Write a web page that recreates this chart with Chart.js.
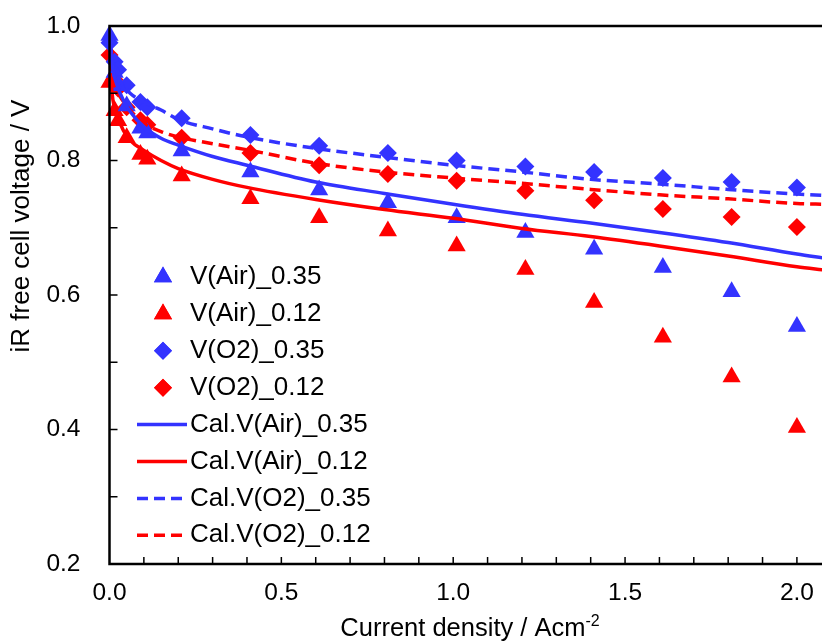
<!DOCTYPE html>
<html>
<head>
<meta charset="utf-8">
<script src="https://cdn.jsdelivr.net/npm/chart.js@4.4.1/dist/chart.umd.min.js"></script>
<style>
  html, body { margin: 0; padding: 0; background: #fff; }
  #wrap { width: 822px; height: 643px; }
</style>
</head>
<body>
<div id="wrap"><canvas id="myChart" width="822" height="643"></canvas></div>
<script>
// measured points (current density in A/cm2, iR free voltage in V)
const currentDensity = [0, 0.015, 0.025, 0.05, 0.09, 0.11, 0.21, 0.41, 0.61, 0.81, 1.01, 1.21, 1.41, 1.61, 1.81, 2.0];
const vAir035 = [0.986, 0.931, 0.911, 0.881, 0.848, 0.841, 0.814, 0.783, 0.756, 0.737, 0.715, 0.693, 0.668, 0.641, 0.605, 0.553];
const vAir012 = [0.916, 0.874, 0.859, 0.834, 0.809, 0.802, 0.777, 0.743, 0.715, 0.695, 0.673, 0.638, 0.589, 0.537, 0.478, 0.403];
const vO2035 = [0.975, 0.947, 0.935, 0.912, 0.887, 0.879, 0.863, 0.838, 0.822, 0.811, 0.800, 0.791, 0.783, 0.774, 0.768, 0.760];
const vO2012 = [0.957, 0.920, 0.907, 0.879, 0.860, 0.853, 0.834, 0.811, 0.793, 0.780, 0.770, 0.755, 0.741, 0.728, 0.716, 0.701];

// calculated curves
const calDensity = [0.002, 0.01, 0.02, 0.04, 0.06, 0.1, 0.15, 0.2, 0.3, 0.4, 0.6, 0.8, 1.0, 1.2, 1.4, 1.6, 1.8, 2.0, 2.08];
const calAir035 = [0.970, 0.935, 0.915, 0.890, 0.873, 0.850, 0.833, 0.823, 0.806, 0.793, 0.768, 0.751, 0.735, 0.720, 0.707, 0.693, 0.678, 0.661, 0.655];
const calAir012 = [0.930, 0.890, 0.870, 0.845, 0.830, 0.815, 0.800, 0.788, 0.772, 0.760, 0.742, 0.727, 0.714, 0.699, 0.687, 0.673, 0.658, 0.642, 0.637];
const calO2035 = [0.975, 0.945, 0.930, 0.912, 0.900, 0.887, 0.875, 0.861, 0.847, 0.835, 0.818, 0.805, 0.793, 0.783, 0.772, 0.765, 0.757, 0.750, 0.748];
const calO2012 = [0.950, 0.920, 0.905, 0.888, 0.875, 0.855, 0.843, 0.835, 0.825, 0.816, 0.796, 0.783, 0.774, 0.766, 0.757, 0.749, 0.743, 0.736, 0.735];

const xTickLabels = [0, 0.5, 1.0, 1.5, 2.0];
const yTickLabels = [0.2, 0.4, 0.6, 0.8, 1.0];

const blue = 'rgb(51,51,255)';
const red = 'rgb(255,0,0)';
const FONT = "'Liberation Sans', Arial, sans-serif";

function pts(xs, ys) {
    return xs.map((x, i) => ({ x: x, y: ys[i] }));
}

function markerSet(label, ys, color, style, r) {
    return {
        label: label, type: 'scatter', data: pts(currentDensity, ys),
        pointStyle: style, pointRadius: r, backgroundColor: color, borderColor: color,
        borderWidth: 0, showLine: false, clip: false, order: 1
    };
}
function calSet(label, ys, color, dashed) {
    return {
        label: label, type: 'line', data: pts(calDensity, ys),
        borderColor: color, backgroundColor: color, borderWidth: 3.5,
        borderDash: dashed ? [11, 6] : [], pointRadius: 0, fill: false,
        cubicInterpolationMode: 'monotone', clip: false, order: 0
    };
}

// axes frame, inward ticks, legend and titles
const decorations = {
    id: 'decorations',
    afterDraw(chart) {
        const ctx = chart.ctx;
        const a = chart.chartArea;
        const xs = chart.scales.x, ys = chart.scales.y;
        ctx.save();
        ctx.strokeStyle = '#000';
        ctx.lineWidth = 2.5;
        ctx.beginPath();
        ctx.moveTo(a.left, a.top); ctx.lineTo(a.right, a.top);
        ctx.moveTo(a.left, a.top - 1.2); ctx.lineTo(a.left, a.bottom + 1.2);
        ctx.moveTo(a.left, a.bottom); ctx.lineTo(a.right, a.bottom);
        ctx.stroke();

        ctx.lineWidth = 1.5;
        ctx.beginPath();
        for (let k = 3; k <= 9; k++) {
            const py = ys.getPixelForValue(k / 10);
            ctx.moveTo(a.left, py); ctx.lineTo(a.left + 8, py);
        }
        for (let k = 1; k <= 20; k++) {
            const px = xs.getPixelForValue(k / 10);
            ctx.moveTo(px, a.bottom); ctx.lineTo(px, a.bottom - 7);
        }
        ctx.stroke();

        // legend
        ctx.font = '26px ' + FONT;
        ctx.fillStyle = '#000';
        ctx.textBaseline = 'middle';
        chart.data.datasets.forEach((ds, i) => {
            const y = 277 + 36.9 * i;
            if (ds.type === 'scatter') {
                ctx.fillStyle = ds.backgroundColor;
                Chart.helpers.drawPoint(ctx, { pointStyle: ds.pointStyle, radius: ds.pointRadius, borderWidth: 0 }, 163, y);
                ctx.fill();
            } else {
                ctx.strokeStyle = ds.borderColor;
                ctx.lineWidth = 3.5;
                ctx.setLineDash(ds.borderDash);
                ctx.beginPath();
                ctx.moveTo(137, y); ctx.lineTo(187, y);
                ctx.stroke();
                ctx.setLineDash([]);
            }
            ctx.fillStyle = '#000';
            ctx.textAlign = 'left';
            ctx.fillText(ds.label, 190, y);
        });

        // x title with superscript
        const main = 'Current density / Acm';
        const sup = '-2';
        ctx.font = '25.5px ' + FONT;
        const w1 = ctx.measureText(main).width;
        ctx.font = '16px ' + FONT;
        const w2 = ctx.measureText(sup).width;
        const x0 = 470 - (w1 + w2) / 2;
        ctx.textBaseline = 'alphabetic';
        ctx.font = '25.5px ' + FONT;
        ctx.fillText(main, x0, 636);
        ctx.font = '16px ' + FONT;
        ctx.fillText(sup, x0 + w1, 626);

        // y title
        ctx.translate(22, 226);
        ctx.rotate(-Math.PI / 2);
        ctx.font = '26px ' + FONT;
        ctx.textAlign = 'center';
        ctx.textBaseline = 'middle';
        ctx.fillText('iR free cell voltage / V', 0, 0);
        ctx.restore();
    }
};

const ctx = document.getElementById('myChart').getContext('2d');
const myChart = new Chart(ctx, {
    data: {
        datasets: [
            markerSet('V(Air)_0.35', vAir035, blue, 'triangle', 10.5),
            markerSet('V(Air)_0.12', vAir012, red, 'triangle', 10.5),
            markerSet('V(O2)_0.35', vO2035, blue, 'rectRot', 9),
            markerSet('V(O2)_0.12', vO2012, red, 'rectRot', 9),
            calSet('Cal.V(Air)_0.35', calAir035, blue, false),
            calSet('Cal.V(Air)_0.12', calAir012, red, false),
            calSet('Cal.V(O2)_0.35', calO2035, blue, true),
            calSet('Cal.V(O2)_0.12', calO2012, red, true)
        ]
    },
    options: {
        responsive: false,
        animation: false,
        devicePixelRatio: 1,
        layout: { autoPadding: false, padding: { top: 26, right: 0, left: 0, bottom: 0 } },
        plugins: { legend: { display: false }, tooltip: { enabled: false } },
        scales: {
            x: {
                type: 'linear', min: 0, max: 2.073,
                afterFit: s => { s.height = 79; s.paddingLeft = 0; s.paddingRight = 0; },
                grid: { display: false, drawTicks: false },
                border: { display: false },
                ticks: {
                    stepSize: 0.5, includeBounds: false, padding: 15, autoSkip: false, color: '#000',
                    font: { family: FONT, size: 24.5 },
                    callback: v => xTickLabels.some(t => Math.abs(t - v) < 1e-6) ? v.toFixed(1) : ''
                }
            },
            y: {
                type: 'linear', min: 0.2, max: 1.0,
                afterFit: s => { s.width = 109.5; s.paddingTop = 0; s.paddingBottom = 0; },
                grid: { display: false, drawTicks: false },
                border: { display: false },
                ticks: {
                    stepSize: 0.2, padding: 29, autoSkip: false, color: '#000',
                    font: { family: FONT, size: 24.5 },
                    callback: v => yTickLabels.some(t => Math.abs(t - v) < 1e-6) ? v.toFixed(1) : ''
                }
            }
        }
    },
    plugins: [decorations]
});
</script>
</body>
</html>
